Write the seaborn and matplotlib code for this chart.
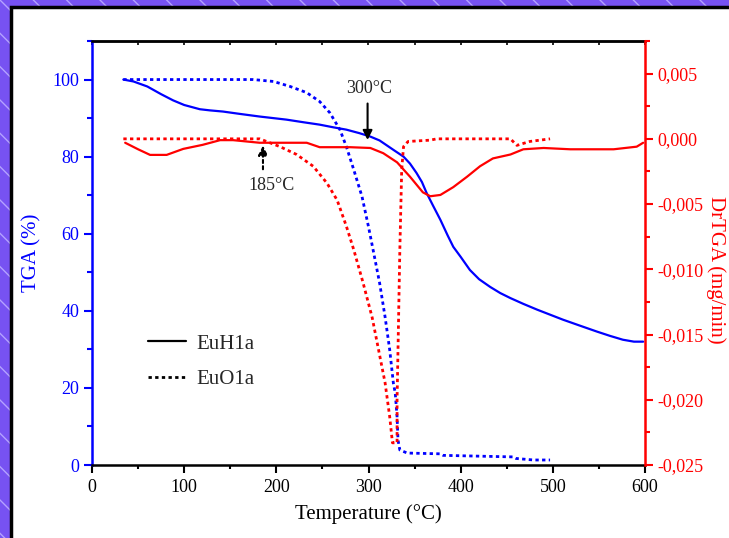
import numpy as np
import pandas as pd
import matplotlib
matplotlib.use("Agg")
import matplotlib.pyplot as plt
import seaborn as sns
from matplotlib.lines import Line2D
from matplotlib.patches import Rectangle
from matplotlib.ticker import MultipleLocator, FuncFormatter

# EuH1a, TGA (%)  -- solid blue
h_tga_x = [34, 45, 60, 75, 88, 100, 117, 128, 142, 160, 182, 211, 230, 247, 262, 276,
           290, 302, 312, 320, 328, 338, 345, 352, 358, 363, 370, 378, 386, 392, 400,
           410, 420, 432, 443, 454, 468, 483, 497, 511, 530, 548, 562, 576, 588, 598]
h_tga_y = [100, 99.5, 98.2, 96.2, 94.6, 93.4, 92.3, 92.0, 91.7, 91.1, 90.4, 89.6, 88.9,
           88.3, 87.6, 87.0, 86.1, 85.2, 84.2, 82.9, 81.6, 80.0, 78.2, 75.8, 73.4, 70.6,
           67.3, 63.6, 59.5, 56.6, 54.0, 50.6, 48.2, 46.2, 44.6, 43.3, 41.8, 40.3, 39.0,
           37.7, 36.1, 34.6, 33.5, 32.5, 32.0, 32.0]

# EuO1a, TGA (%)  -- dotted blue
o_tga_x = [34, 100, 175, 197, 215, 233, 247, 258, 269, 276, 284, 293, 300, 305, 312,
           318, 323, 327, 329, 331, 332, 333, 334, 342, 378, 381, 457, 460, 479, 497]
o_tga_y = [100, 100, 100, 99.5, 98.2, 96.6, 94.3, 91.4, 87.0, 82.6, 76.6, 69.6, 61.8,
           55.8, 47.3, 38.4, 29.9, 21.2, 18.7, 12.5, 6.5, 5.2, 3.9, 3.1, 2.9, 2.5, 2.1,
           1.7, 1.3, 1.3]

# EuH1a, DrTGA (mg/min)  -- solid red
h_dtg_x = [36, 50, 63, 81, 99, 120, 139, 153, 182, 210, 233, 247, 280, 302, 316, 331,
           345, 359, 367, 378, 392, 407, 421, 435, 454, 468, 490, 519, 566, 591, 598]
h_dtg_y = [-0.0003, -0.0008, -0.00123, -0.00123, -0.00077, -0.00046, -0.0001, -0.0001,
           -0.0003, -0.0003, -0.0003, -0.00064, -0.00064, -0.0007, -0.0011, -0.0018,
           -0.0029, -0.0041, -0.0044, -0.0043, -0.0037, -0.0029, -0.0021, -0.0015,
           -0.0012, -0.0008, -0.0007, -0.0008, -0.0008, -0.0006, -0.0003]

# EuO1a, DrTGA (mg/min)  -- dotted red
o_dtg_x = [34, 100, 182, 204, 222, 240, 255, 266, 276, 284, 294, 304, 311, 318, 323,
           326, 331, 331, 332, 334, 336, 338, 343, 367, 374, 420, 454, 461, 475, 497]
o_dtg_y = [0, 0, 0, -0.0006, -0.0012, -0.0021, -0.0034, -0.0047, -0.0067, -0.0085,
           -0.011, -0.0137, -0.0162, -0.0187, -0.0213, -0.0233, -0.0233, -0.020,
           -0.0162, -0.0085, -0.0024, -0.0006, -0.0002, -0.0001, 0, 0, 0, -0.0005,
           -0.0002, 0]

series = ["EuH1a", "EuO1a"]

BLUE = "#0000ff"
RED = "#ff0000"
DOT = (0, (1.2, 1.2))


def comma_fmt(v, pos):
    if abs(v) < 1e-9:
        v = 0.0
    return f"{v:.3f}".replace(".", ",")


sns.set_style("ticks")
plt.rcParams["font.family"] = ["Liberation Serif", "DejaVu Serif"]
plt.rcParams["axes.unicode_minus"] = False

fig = plt.figure(figsize=(7.29, 5.38), dpi=100)
fig.patch.set_facecolor("#7752f2")

# hatched purple frame + white panel
fig.add_artist(Rectangle((0, 0), 1, 1, transform=fig.transFigure, facecolor="#7752f2",
                         edgecolor="#b4a2ff", hatch="\\", lw=0, zorder=-10))
fig.add_artist(Rectangle((10.5 / 729, -0.05), 1.2, (538 - 6.5) / 538 + 0.05,
                         transform=fig.transFigure, facecolor="white",
                         edgecolor="black", lw=2.5, zorder=-9))

ax = fig.add_axes([92 / 729, 73 / 538, 553 / 729, 424 / 538])
ax.patch.set_alpha(0)
ax2 = ax.twinx()

sns.lineplot(x=h_tga_x, y=h_tga_y, ax=ax, color=BLUE, lw=1.6, sort=False, estimator=None)
sns.lineplot(x=o_tga_x, y=o_tga_y, ax=ax, color=BLUE, lw=2.0, linestyle=DOT,
             sort=False, estimator=None)
sns.lineplot(x=h_dtg_x, y=h_dtg_y, ax=ax2, color=RED, lw=1.6, sort=False, estimator=None)
sns.lineplot(x=o_dtg_x, y=o_dtg_y, ax=ax2, color=RED, lw=2.0, linestyle=DOT,
             sort=False, estimator=None)

ax.set_xlim(0, 600)
ax.set_ylim(0, 110)
ax2.set_ylim(-0.025, 0.0075)

ax.xaxis.set_major_locator(MultipleLocator(100))
ax.xaxis.set_minor_locator(MultipleLocator(50))
ax.yaxis.set_major_locator(MultipleLocator(20))
ax.yaxis.set_minor_locator(MultipleLocator(10))
ax2.yaxis.set_major_locator(MultipleLocator(0.005))
ax2.yaxis.set_minor_locator(MultipleLocator(0.0025))
ax2.yaxis.set_major_formatter(FuncFormatter(comma_fmt))

for sp in ax.spines.values():
    sp.set_linewidth(1.8)
ax.spines["left"].set_color(BLUE)
ax.spines["bottom"].set_color("black")
ax.spines["top"].set_color("black")
ax.spines["right"].set_visible(False)
ax2.spines["left"].set_visible(False)
ax2.spines["top"].set_visible(False)
ax2.spines["bottom"].set_visible(False)
ax2.spines["right"].set_color(RED)
ax2.spines["right"].set_linewidth(1.8)

ax.tick_params(axis="x", which="major", direction="out", length=6, width=1.5,
               colors="black", labelsize=13, pad=4)
ax.tick_params(axis="x", which="minor", direction="out", length=3, width=1.5, colors="black")
ax.tick_params(axis="y", which="major", direction="out", length=6, width=1.5,
               colors=BLUE, labelsize=13, pad=3)
ax.tick_params(axis="y", which="minor", direction="out", length=3.5, width=1.5, colors=BLUE)
ax2.tick_params(axis="y", which="major", direction="out", length=6, width=1.5,
                colors=RED, labelsize=13, pad=3)
ax2.tick_params(axis="y", which="minor", direction="out", length=3.5, width=1.5, colors=RED)

top = ax.secondary_xaxis("top")
top.xaxis.set_major_locator(MultipleLocator(50))
top.tick_params(direction="in", length=3, width=1.2, labeltop=False, colors="black")
top.spines["top"].set_linewidth(1.8)

ax.set_xlabel("Temperature (°C)", fontsize=15, color="black", labelpad=6)
ax.set_ylabel("TGA (%)", fontsize=15, color=BLUE, labelpad=8)
ax2.set_ylabel("DrTGA (mg/min)", fontsize=15, color=RED, rotation=270, va="center")
ax2.yaxis.set_label_coords((716 - 92) / 553, 0.46)

# annotations
ax.annotate("", xy=(299, 83.6), xytext=(299, 94.5),
            arrowprops=dict(arrowstyle="-|>", color="black", lw=1.5, mutation_scale=14))
ax.text(301, 97.6, "300°C", ha="center", va="center", fontsize=13)
ax.annotate("", xy=(185.5, 83.6), xytext=(185.5, 76.0),
            arrowprops=dict(arrowstyle="-|>", color="black", lw=1.5, linestyle=(0, (1.5, 1.5)),
                            mutation_scale=14))
ax.text(195, 72.5, "185°C", ha="center", va="center", fontsize=13)

handles = [Line2D([], [], color="black", lw=1.6),
           Line2D([], [], color="black", lw=2.0, linestyle=DOT)]
ax2.legend(handles, series, loc="center left", bbox_to_anchor=(0.1013, 0.244),
           frameon=False, fontsize=15, handlelength=1.8, handletextpad=0.5,
           labelspacing=0.75, borderpad=0, borderaxespad=0)

fig.savefig("out.png", dpi=100)
